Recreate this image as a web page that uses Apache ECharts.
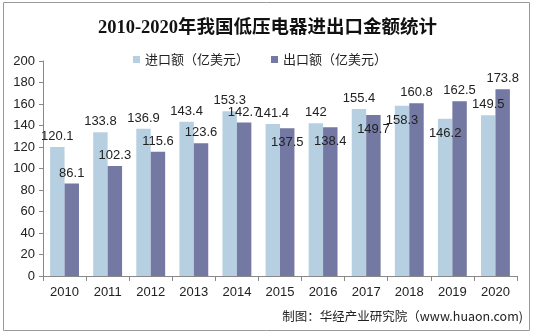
<!DOCTYPE html>
<html><head><meta charset="utf-8">
<script src="https://cdn.jsdelivr.net/npm/echarts@6/dist/echarts.min.js"></script>
<style>html,body{margin:0;padding:0;background:#fff}#c{width:535px;height:336px}</style>
</head><body><div id="c"></div>
<script>
const categories = ['2010','2011','2012','2013','2014','2015','2016','2017','2018','2019','2020'];
const importVals = [120.1,133.8,136.9,143.4,153.3,141.4,142,155.4,158.3,146.2,149.5];
const exportVals = [86.1,102.3,115.6,123.6,142.7,137.5,138.4,149.7,160.8,162.5,173.8];
const seriesNames = ['进口额（亿美元）','出口额（亿美元）'];
const chart = echarts.init(document.getElementById('c'));
const lbl = {show:true, position:'top', distance:4, color:'#222', fontSize:13, fontFamily:'Arial, Liberation Sans, sans-serif'};
// labels that sit lower (inside bar top) in the original
const importLow = [8, 9];
const exportLow = [5, 6, 7];
function items(vals, low){
  return vals.map((v,i)=> low.includes(i) ? {value:v, label:{offset:[0,25]}} : v);
}
chart.setOption({
  animation:false,
  title:{text:'2010-2020年我国低压电器进出口金额统计', left:'center', top:14,
    textStyle:{fontFamily:'Liberation Serif, Noto Sans CJK SC, serif', fontWeight:'bold', fontSize:18.5, color:'#111'}},
  legend:{data:seriesNames, top:48, left:128, itemWidth:7, itemHeight:7, itemGap:22, icon:'rect',
    textStyle:{fontSize:13, color:'#222', fontFamily:'Noto Sans CJK SC, sans-serif'}},
  grid:{left:43, right:18, top:61, bottom:60},
  xAxis:{type:'category', data:categories,
    axisLine:{lineStyle:{color:'#888'}}, axisTick:{show:true, interval:0, lineStyle:{color:'#888'}},
    axisLabel:{color:'#222', fontSize:13, margin:10, fontFamily:'Arial, Liberation Sans, sans-serif'}},
  yAxis:{type:'value', min:0, max:200, interval:20,
    axisLine:{show:true, lineStyle:{color:'#888'}}, axisTick:{show:true, lineStyle:{color:'#888'}, length:4},
    splitLine:{show:false},
    axisLabel:{color:'#222', fontSize:13, margin:8, fontFamily:'Arial, Liberation Sans, sans-serif'}},
  series:[
    {name:seriesNames[0], type:'bar', data:items(importVals, importLow), barGap:'0%', barCategoryGap:'33%',
      itemStyle:{color:'#b6d0e2'}, label:lbl},
    {name:seriesNames[1], type:'bar', data:items(exportVals, exportLow),
      itemStyle:{color:'#7379a2'}, label:lbl}
  ],
  graphic:[
    {type:'rect', shape:{x:3.5,y:2.5,width:526,height:328}, style:{fill:'none', stroke:'#999', lineWidth:1}, z:-1},
    {type:'text', right:12, top:310, style:{text:'制图：华经产业研究院（www.huaon.com)', fontSize:12.5, fill:'#222', fontFamily:'Noto Sans CJK SC, sans-serif'}}
  ]
});
</script></body></html>
